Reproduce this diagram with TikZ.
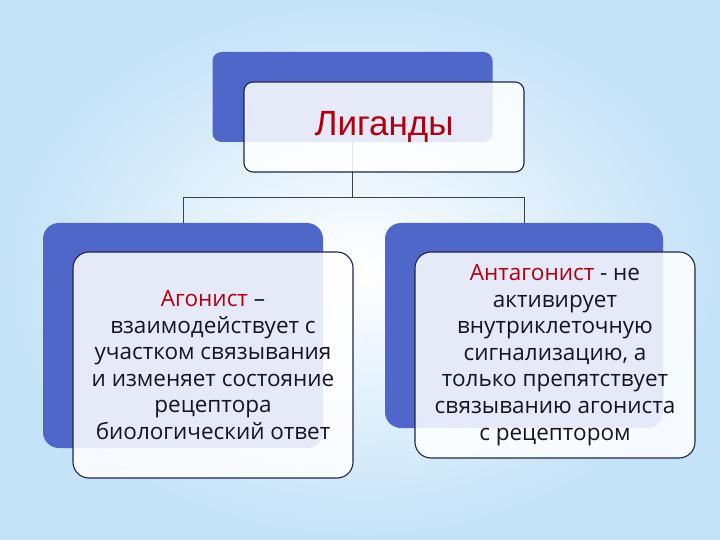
\documentclass[tikz,border=0pt]{standalone}
\usepackage{fontspec}
\setmainfont{Open Sans}
\newfontfamily\titlefont{Liberation Sans}
\definecolor{bgblue}{RGB}{196,226,248}
\definecolor{boxblue}{RGB}{79,103,200}
\definecolor{edgenavy}{RGB}{30,38,70}
\definecolor{ligred}{RGB}{176,0,16}
\definecolor{txtdark}{RGB}{20,20,34}

\begin{document}
\begin{tikzpicture}[x=1pt,y=-1pt,
	backbox/.style={rectangle,rounded corners=16pt,fill=boxblue,inner sep=0pt,outer sep=0pt},
	frontbox/.style={rectangle,rounded corners=16pt,draw=edgenavy,line width=1.1pt,fill=white,fill opacity=0.86,text opacity=1,inner sep=0pt,outer sep=0pt,align=center,text=txtdark,font=\fontsize{22.5}{26.6}\selectfont},
	conn/.style={draw=black!75,line width=0.9pt}]
	\useasboundingbox (0,0) rectangle (720,540);
	\shade[inner color=white,outer color=bgblue] (0,0) rectangle (720,540);
	\node[backbox,rounded corners=9pt,minimum width=280pt,minimum height=90pt] (ligB) at (352.5,97) {};
	\node[backbox,minimum width=280pt,minimum height=225pt] (agoB) at (183,335.5) {};
	\node[backbox,minimum width=278pt,minimum height=205pt] (antB) at (524,325.5) {};
	\coordinate (split) at (352.5,197);
	\draw[conn] (ligB.south) -- (split);
	\draw[conn] (split) -| (agoB.north);
	\draw[conn] (split) -| (antB.north);
	\node[frontbox,rounded corners=9pt,minimum width=280pt,minimum height=90pt,font=\titlefont\fontsize{35}{40}\selectfont,text=ligred] (ligF) at (384,127) {Лиганды};
	\node[frontbox,minimum width=280pt,minimum height=226pt] (agoF) at (213,365) {{\color{ligred}Агонист} –\\взаимодействует с\\участком связывания\\и изменяет состояние\\рецептора\\биологический ответ};
	\node[frontbox,minimum width=280pt,minimum height=206pt] (antF) at (555,355) {{\color{ligred}Антагонист} - не\\активирует\\внутриклеточную\\сигнализацию, а\\только препятствует\\связыванию агониста\\с рецептором};
\end{tikzpicture}
\end{document}
